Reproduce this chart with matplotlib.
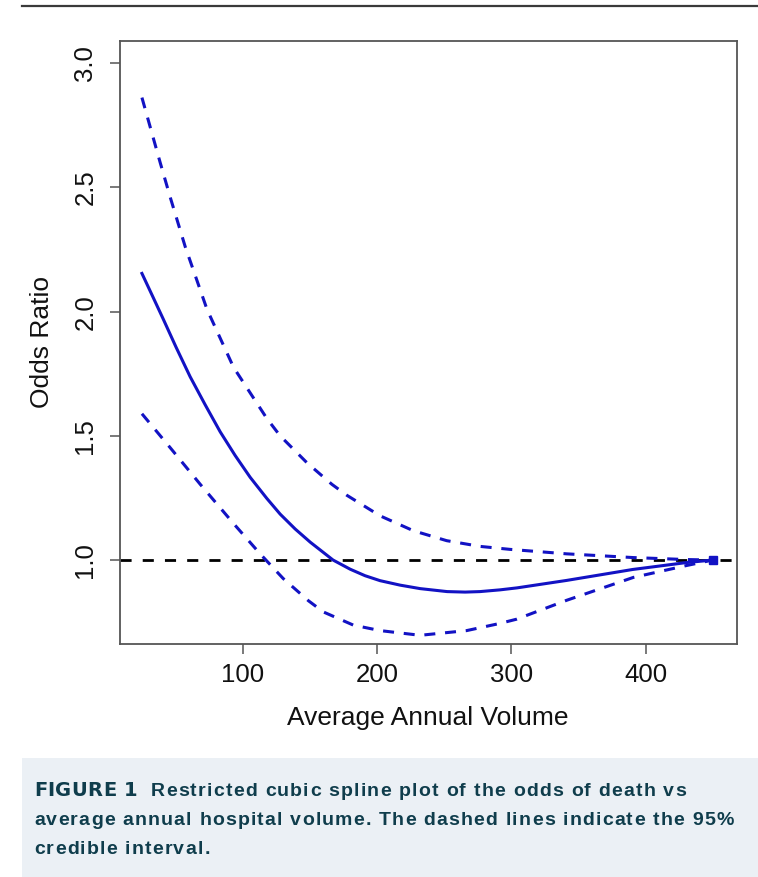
import matplotlib
matplotlib.use("Agg")
import matplotlib.pyplot as plt
from matplotlib.patches import Rectangle
from matplotlib.lines import Line2D
from matplotlib import font_manager, ft2font

# odds ratio estimate (solid line) vs average annual volume
vol_mid = [25.0, 32.7, 40.8, 50.5, 60.9, 72.1, 83.3, 94.4, 105.6, 118.0, 127.9, 139.1,
           150.3, 167.3, 180.1, 191.1, 202.3, 217.2, 232.1, 252.2, 265.6, 276.7, 291.6,
           304.3, 341.2, 390.3, 430.5, 450.0]
or_mid = [2.154, 2.065, 1.971, 1.856, 1.738, 1.625, 1.516, 1.421, 1.333, 1.248, 1.185,
          1.125, 1.072, 1.0, 0.963, 0.937, 0.917, 0.899, 0.885, 0.873, 0.871, 0.873,
          0.880, 0.888, 0.918, 0.962, 0.99, 1.0]

# upper 95% credible limit
vol_hi = [25.0, 38.6, 46.1, 57.2, 73.4, 93.2, 118.0, 127.9, 147.8, 166.4, 177.5, 202.3,
          227.1, 251.9, 276.7, 299.0, 341.2, 390.8, 430.5, 450.0]
or_hi = [2.862, 2.60, 2.46, 2.262, 2.01, 1.776, 1.57, 1.50, 1.392, 1.305, 1.261, 1.178,
         1.118, 1.078, 1.055, 1.043, 1.025, 1.01, 1.002, 1.0]

# lower 95% credible limit
vol_lo = [25.0, 46.1, 68.4, 93.2, 113.0, 130.1, 149.0, 160.1, 182.4, 202.3, 232.1, 266.8,
          291.6, 304.0, 341.2, 390.8, 430.5, 450.0]
or_lo = [1.589, 1.452, 1.305, 1.147, 1.025, 0.926, 0.836, 0.791, 0.738, 0.716, 0.697,
         0.716, 0.745, 0.762, 0.838, 0.93, 0.978, 1.0]

xticks = [100, 200, 300, 400]
yticks = [1.0, 1.5, 2.0, 2.5, 3.0]

caption_tag = 'FIGURE 1'
caption_lines = ['Restricted cubic spline plot of the odds of death vs',
                 'average annual hospital volume. The dashed lines indicate the 95%',
                 'credible interval.']

W, H = 758, 877
plt.rcParams['font.family'] = ['Liberation Sans', 'DejaVu Sans']
fig = plt.figure(figsize=(W / 100, H / 100), dpi=100)


def px(x, y):
    return x / W, 1 - y / H


def advances(s, fp, size):
    f = ft2font.FT2Font(font_manager.findfont(fp), hinting_factor=1)
    f.set_size(size, 100)
    return [f.load_char(ord(c)).linearHoriAdvance / 65536 for c in s]


def spaced_text(x, y, s, fp, size, color, track):
    # draw a string char by char with extra letter spacing (pixels)
    for c, a in zip(s, advances(s, fp, size)):
        fig.text(*px(x, y), c, fontproperties=fp, fontsize=size, color=color,
                 ha='left', va='baseline')
        x += a + track
    return x


# rule across the top
fig.add_artist(Line2D([22 / W, 1], [1 - 6 / H, 1 - 6 / H], color='#3a3a3a', lw=1.6))

ax = fig.add_axes([119.5 / W, 1 - 644 / H, 617.2 / W, 603.3 / H])
blue = '#1212c4'
ax.axhline(1.0, color='black', lw=2.0, linestyle=(0, (4, 4)))
ax.plot(vol_hi, or_hi, color=blue, lw=2.2, linestyle=(0, (3.6, 3.2)))
ax.plot(vol_lo, or_lo, color=blue, lw=2.2, linestyle=(0, (3.6, 3.2)))
ax.plot(vol_mid, or_mid, color=blue, lw=2.2)
ax.plot([vol_mid[-1]], [or_mid[-1]], marker='s', color=blue, ms=6)

ax.set_xlim(8.3, 467.8)
ax.set_ylim(0.662, 3.091)
ax.set_xticks(xticks)
ax.set_yticks(yticks)
ax.set_yticklabels([f"{v:.1f}" for v in yticks], rotation=90, va='center')
for s in ax.spines.values():
    s.set_color('#555555')
    s.set_linewidth(1.3)
ax.tick_params(direction='out', length=7, width=1.1, color='#555555',
               labelsize=18.5, labelcolor='#111111', pad=7)
ax.tick_params(axis='y', pad=9)
ax.set_xlabel('Average Annual Volume', fontsize=19, color='#111111', labelpad=13)
ax.set_ylabel('Odds Ratio', fontsize=19, color='#111111', labelpad=14)

# caption panel
fig.add_artist(Rectangle(px(22, H), 1 - 22 / W, (H - 758) / H,
                         transform=fig.transFigure, facecolor='#ebf0f5', edgecolor='none'))
cap = '#0f3d4c'
tag_fp = font_manager.FontProperties(family='DejaVu Sans', weight='bold')
body_fp = font_manager.FontProperties(family='Liberation Sans', weight='bold')

tag_adv = advances(caption_tag, tag_fp, 14)
tag_track = (103 - sum(tag_adv)) / (len(caption_tag) - 1)
spaced_text(34, 796, caption_tag, tag_fp, 14, cap, tag_track)

ref = caption_lines[1]
body_track = (699 - sum(advances(ref, body_fp, 14))) / (len(ref) - 1)
spaced_text(151, 796, caption_lines[0], body_fp, 14, cap, body_track)
spaced_text(34, 825, caption_lines[1], body_fp, 14, cap, body_track)
spaced_text(34, 854, caption_lines[2], body_fp, 14, cap, body_track)

fig.savefig('out.png', dpi=100)
